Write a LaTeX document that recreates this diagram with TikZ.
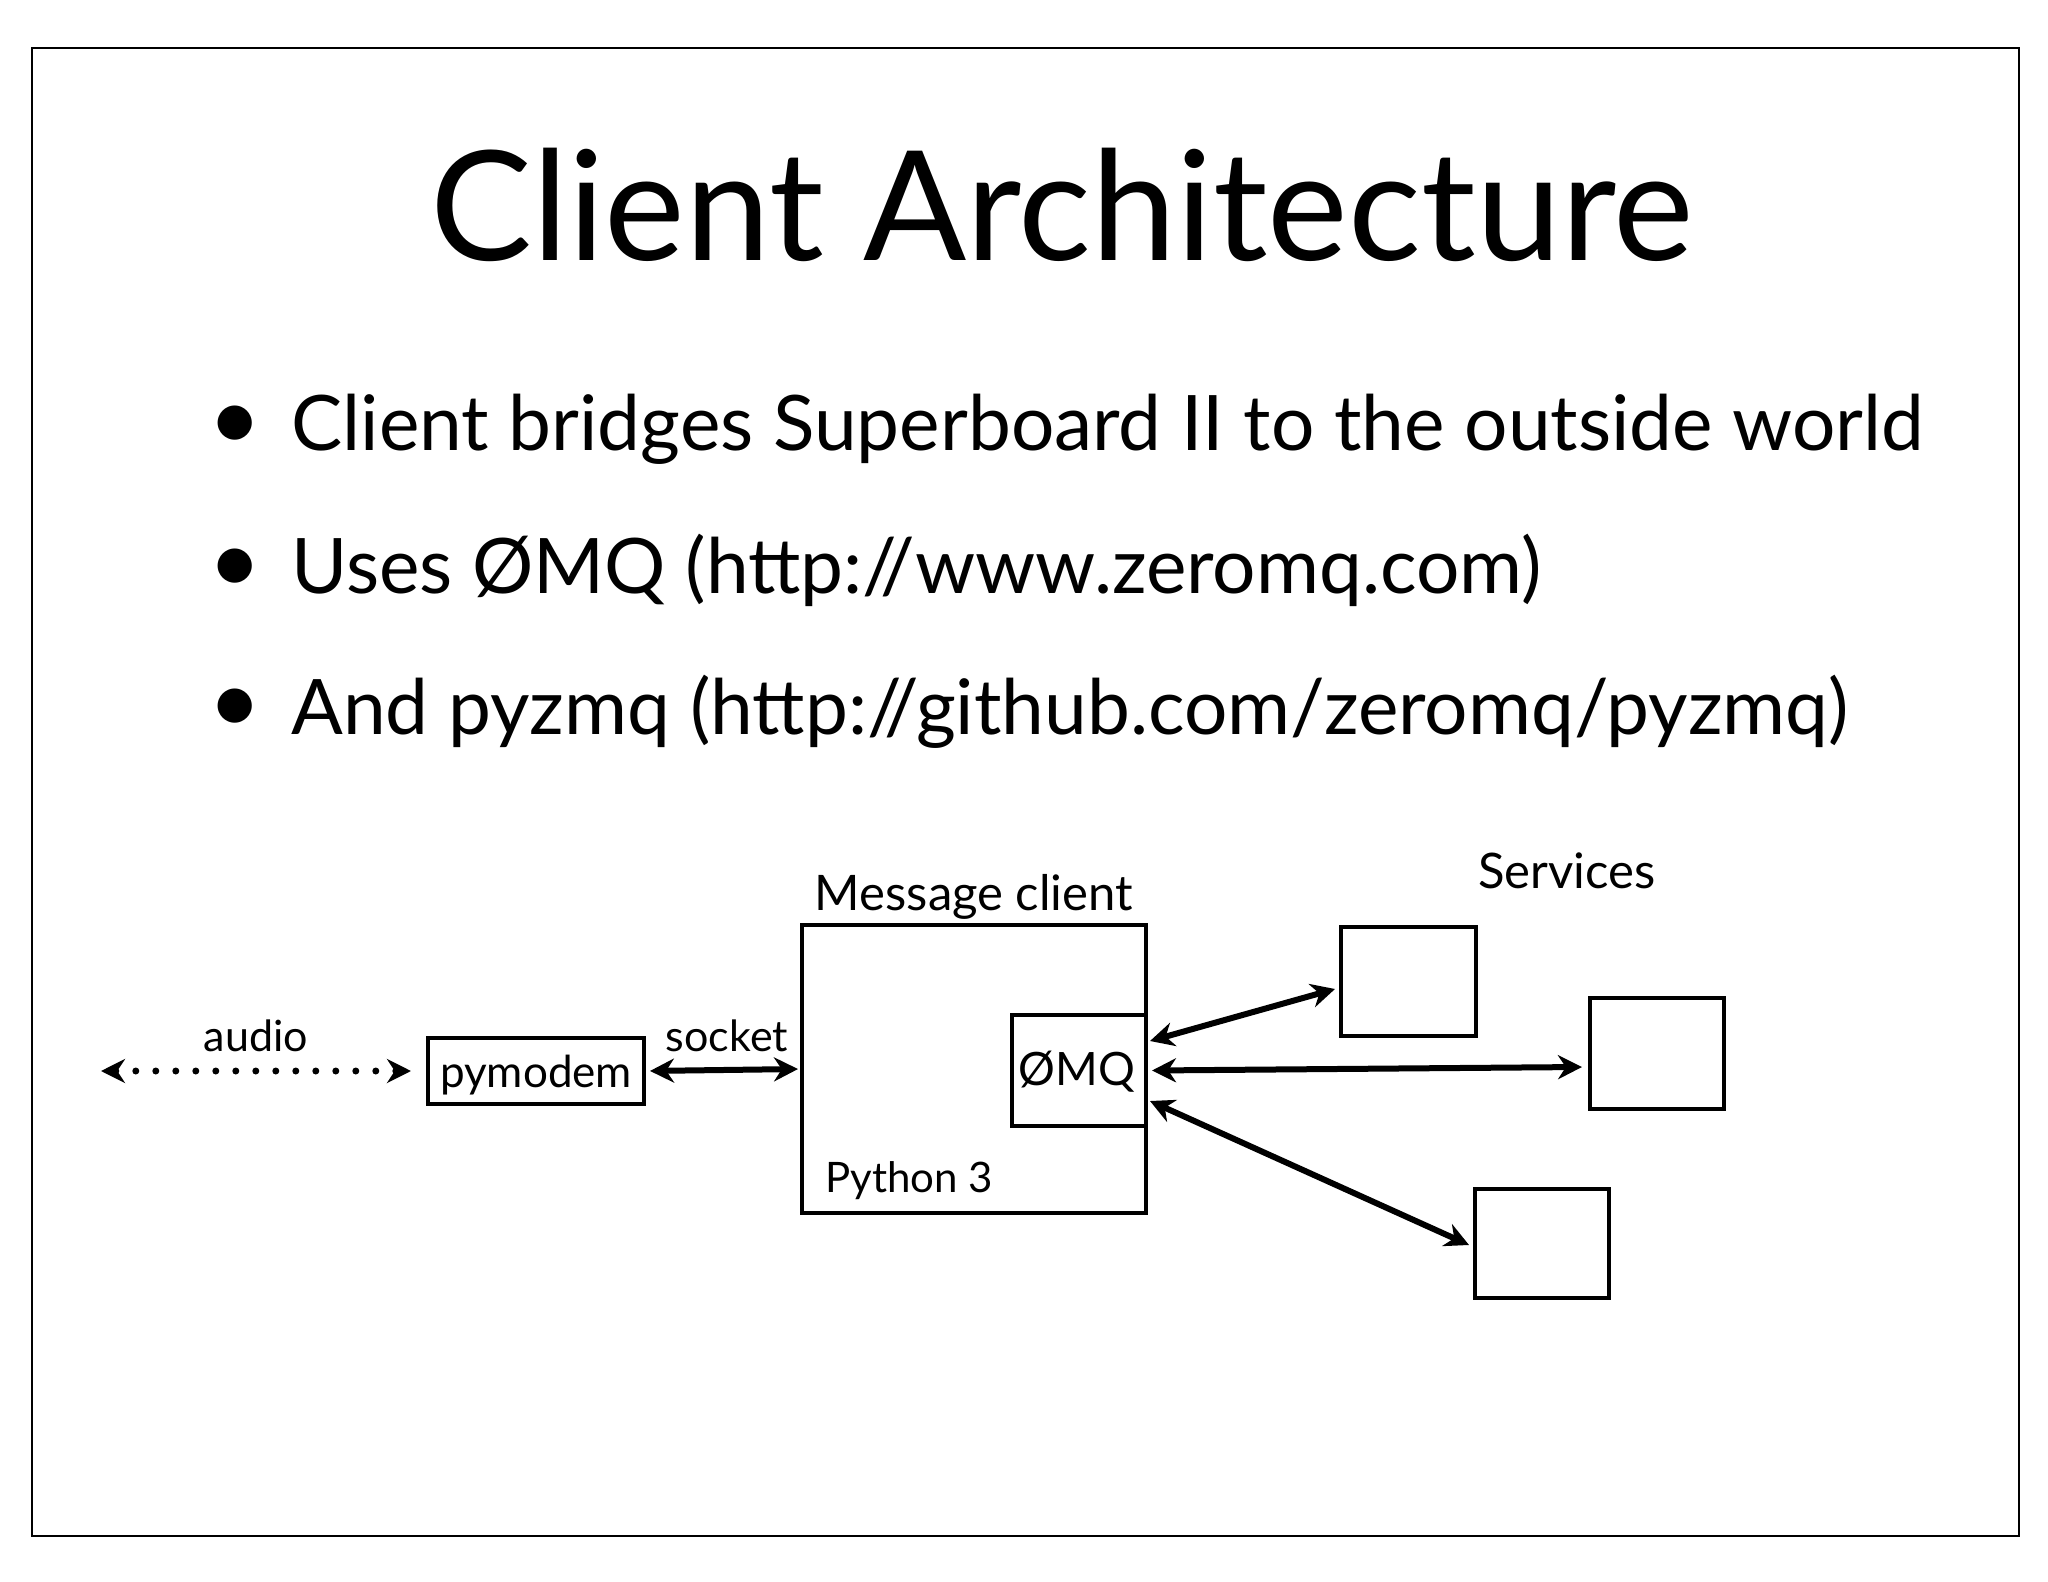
\documentclass[tikz,border=0pt]{standalone}
\usepackage{fontspec}
\setmainfont{Lato}
\usetikzlibrary{arrows.meta}
\begin{document}
\begin{tikzpicture}[x=0.5pt,y=-0.5pt,
  box/.style={draw, line width=2pt, inner sep=0pt},
  lbl/.style={font=\fontsize{23}{26}\selectfont, inner sep=0pt},
  biarrow/.style={line width=3pt, {Stealth[length=12pt,width=12pt]}-{Stealth[length=12pt,width=12pt]}},
  btext/.style={font=\fontsize{38.3}{44}\selectfont, anchor=base west, inner sep=0pt},
  bdot/.style={font=\fontsize{46}{46}\selectfont, inner sep=0pt}]
\fill[white] (0,0) rectangle (2048,1582);
\useasboundingbox (0,0) rectangle (2048,1582);
\node[draw, line width=0.8pt, minimum width=993.5pt, minimum height=744pt, anchor=north west, inner sep=0pt] (frame) at (31,47) {};
% title
\node[anchor=base, font=\fontsize{76.3}{80}\selectfont, inner sep=0pt] (title) at (1062,261) {Client Architecture};
% bullets
\node[bdot] (d1) at (235,428) {•};
\node[btext] (b1) at (291,451) {Client bridges Superboard II to the outside world};
\node[bdot] (d2) at (235,571) {•};
\node[btext] (b2) at (291,594) {Uses ØMQ (http://www.zeromq.com)};
\node[bdot] (d3) at (235,711) {•};
\node[btext] (b3) at (291,734) {And pyzmq (http://github.com/zeromq/pyzmq)};
% diagram boxes
\node[box, minimum width=108pt, minimum height=33pt] (pym) at (536,1071) {};
\node[lbl, anchor=base, font=\fontsize{22}{26}\selectfont] (pymt) at (536,1087) {pymodem};
\node[box, minimum width=172pt, minimum height=144pt] (mc) at (974,1069) {};
\node[box, minimum width=67pt, minimum height=55.5pt] (zmq) at (1079,1070.5) {};
\node[lbl, anchor=base] (zmqt) at (1077,1085) {ØMQ};
\node[box, minimum width=67.5pt, minimum height=54.5pt] (s1) at (1408.5,981.5) {};
\node[box, minimum width=67pt, minimum height=55.5pt] (s2) at (1657,1053.5) {};
\node[box, minimum width=67pt, minimum height=54.5pt] (s3) at (1542,1243.5) {};
% labels
\node[lbl, anchor=base, font=\fontsize{24.5}{28}\selectfont] (mct) at (974,910) {Message client};
\node[lbl, anchor=base, font=\fontsize{24.5}{28}\selectfont] (svt) at (1567,888) {Services};
\node[lbl, anchor=base west, font=\fontsize{21}{26}\selectfont] (pyt) at (825,1192) {Python 3};
\node[lbl, anchor=base, font=\fontsize{21.5}{26}\selectfont] (aut) at (256,1051) {audio};
\node[lbl, anchor=base, font=\fontsize{21.5}{26}\selectfont] (skt) at (727,1051) {socket};
% connectors
\coordinate (ext) at (101,1071);
\draw[line width=3.5pt, line cap=round, dash pattern=on 0pt off 10pt,
  {Stealth[length=12pt,width=12pt]}-{Stealth[length=12pt,width=12pt]}, shorten >=7.5pt] (ext) -- (pym.west);
\draw[biarrow, shorten <=2pt, shorten >=1pt] (pym.east) -- (mc.west);
\draw[biarrow] ([yshift=14.75pt,xshift=1pt]zmq.east) -- ([yshift=-3.75pt,xshift=-2pt]s1.west);
\draw[biarrow] ([xshift=2pt]zmq.east) -- ([yshift=-6.75pt,xshift=-3pt]s2.west);
\draw[biarrow] ([yshift=-15.25pt,xshift=1pt]zmq.east) -- ([yshift=-0.75pt,xshift=-2pt]s3.west);
\end{tikzpicture}
\end{document}
